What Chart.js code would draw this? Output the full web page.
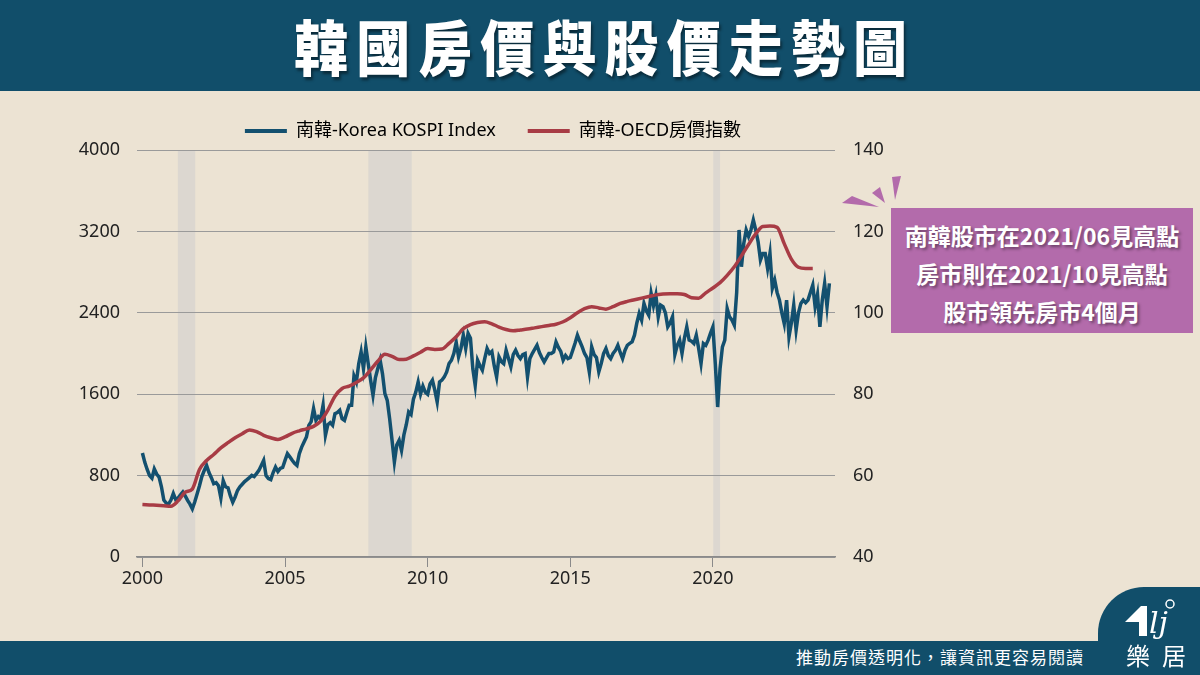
<!DOCTYPE html>
<html lang="zh-Hant">
<head>
<meta charset="utf-8">
<title>韓國房價與股價走勢圖</title>
<script src="https://cdn.jsdelivr.net/npm/chart.js@4.4.1/dist/chart.umd.min.js"></script>
<style>
  html, body { margin: 0; padding: 0; }
  body {
    width: 1200px; height: 675px; position: relative; overflow: hidden;
    background: #ece3d3;
    font-family: "Noto Sans CJK TC", "Noto Sans", sans-serif;
  }
  .title-bar {
    position: absolute; left: 0; top: 0; width: 1200px; height: 91px;
    background: #114e6a; color: #fff; text-align: center;
  }
  .title-bar span {
    display: inline-block; transform: scaleX(0.9); transform-origin: center;
    font-size: 60px; font-weight: 900; letter-spacing: 9px; padding-left: 9px;
    line-height: 90px;
    text-shadow: 2px 3px 3px rgba(0, 0, 0, 0.45);
  }
  .chart-wrap { position: absolute; left: 40px; top: 90px; width: 906px; height: 512px; }
  .note {
    position: absolute; left: 891px; top: 208px; width: 302px; height: 125px;
    background: #b36bab; color: #fff; box-sizing: border-box; padding-top: 8px;
    font-size: 23px; font-weight: 700; line-height: 38px; text-align: center;
    text-shadow: 2px 2px 3px rgba(0, 0, 0, 0.4);
  }
  .burst { position: absolute; left: 0; top: 0; }
  .footer { position: absolute; left: 0; top: 641px; width: 1200px; height: 34px; background: #114e6a; }
  .logo-tab {
    position: absolute; left: 1098px; top: 587px; width: 102px; height: 88px;
    background: #114e6a; border-top-left-radius: 46px;
  }
  .slogan {
    position: absolute; right: 116px; top: 644px; color: #fff;
    font-size: 17px; letter-spacing: 1px; line-height: 26px;
  }
  .logo-name {
    position: absolute; left: 1126px; top: 639px; color: #fff;
    font-size: 24px; letter-spacing: 12px; line-height: 32px;
  }
</style>
</head>
<body>
<div class="title-bar"><span>韓國房價與股價走勢圖</span></div>

<div class="chart-wrap"><canvas id="trendChart" width="906" height="512"></canvas></div>

<svg class="burst" width="1200" height="675">
  <polygon points="842,203 879,207 852,196" fill="#b36bab"/>
  <polygon points="872,193 885,203 880,187" fill="#b36bab"/>
  <polygon points="892,177 895,200 901,176" fill="#b36bab"/>
</svg>

<div class="note">南韓股市在2021/06見高點<br>房市則在2021/10見高點<br>股市領先房市4個月</div>

<div class="logo-tab"></div>
<div class="footer"></div>
<div class="slogan">推動房價透明化，讓資訊更容易閱讀</div>
<svg class="burst" width="1200" height="675">
  <polygon points="1125,622 1141,606 1147,606 1147,636 1139,636 1139,622" fill="#fff"/>
  <text x="1149" y="633" fill="#fff" font-family="DejaVu Serif" font-style="italic" font-size="30">lj</text>
  <circle cx="1170" cy="604" r="4" fill="none" stroke="#fff" stroke-width="1.5"/>
</svg>
<div class="logo-name">樂居</div>

<script>
// ---- data ----
// KOSPI index, monthly points starting Jan 2000
const kospiStartYear = 2000;
const kospiMonthly = [
    1022, 930, 860, 800, 775, 865, 815, 785, 690, 560, 530, 520,          // 2000
    560, 625, 565, 580, 610, 638, 600, 556, 520, 474, 540, 620,           // 2001
    700, 790, 850, 900, 830, 780, 720, 730, 700, 580, 750, 690,           // 2002
    680, 600, 539, 590, 654, 690, 715, 741, 760, 780, 802, 790,           // 2003
    820, 851, 900, 950, 800, 770, 760, 830, 884, 840, 870, 880,           // 2004
    950, 1016, 985, 950, 920, 900, 1016, 1080, 1130, 1179, 1294, 1330,    // 2005
    1459, 1343, 1380, 1360, 1491, 1196, 1300, 1320, 1294, 1409, 1420, 1442, // 2006
    1360, 1343, 1420, 1491, 1491, 1780, 1720, 1900, 2016, 1850, 2065, 1900, // 2007
    1737, 1590, 1760, 1850, 1934, 1800, 1606, 1540, 1360, 1150, 933, 1100,  // 2008
    1147, 1048, 1200, 1300, 1425, 1400, 1550, 1620, 1720, 1600, 1680, 1620, // 2009
    1600, 1700, 1737, 1640, 1524, 1720, 1740, 1770, 1819, 1901, 1934, 2000, // 2010
    2110, 1967, 2050, 2180, 2049, 2197, 2150, 1850, 1688, 1934, 1880, 1836, // 2011
    1950, 2049, 2000, 2020, 1880, 1770, 1967, 1920, 1900, 2032, 1950, 1868, // 2012
    1990, 2032, 1980, 1950, 1990, 2000, 1770, 1950, 2000, 2040, 2081, 2010, // 2013
    1960, 1917, 1960, 2000, 2000, 2016, 2114, 2060, 2020, 1934, 1980, 1950, // 2014
    1960, 2030, 2100, 2180, 2120, 2065, 2000, 1960, 1819, 2065, 1990, 1960, // 2015
    1819, 1900, 2000, 2049, 1980, 1950, 2000, 2030, 2081, 2010, 1950, 2030, // 2016
    2081, 2100, 2114, 2180, 2300, 2394, 2328, 2492, 2420, 2377, 2590, 2470, // 2017
    2574, 2360, 2476, 2460, 2400, 2262, 2300, 2360, 1990, 2080, 2131, 2000, // 2018
    2150, 2262, 2131, 2120, 2098, 2180, 2050, 1902, 2098, 2080, 2131, 2200, // 2019
    2262, 1900, 1474, 1850, 2065, 2131, 2443, 2360, 2330, 2279, 2600, 3214, // 2020
    2853, 3083, 3214, 3150, 3214, 3312, 3214, 3100, 2918, 2984, 2984, 2837, // 2021
    2984, 2642, 2721, 2600, 2525, 2400, 2295, 2525, 2164, 2300, 2476, 2230, // 2022
    2400, 2492, 2525, 2500, 2525, 2600, 2672, 2459, 2580, 2262, 2525, 2689, // 2023
    2459, 2689                                                              // 2024
];

// OECD house price index, quarterly points starting 2000 Q1
const houseStartYear = 2000;
const houseQuarterly = [
    52.9, 52.8, 52.7, 52.6,  52.5, 53.8, 55.9, 56.7,  61.5, 63.7, 65.2, 66.8,
    68.1, 69.3, 70.3, 71.2,  70.8, 69.9, 69.3, 68.9,  69.5, 70.4, 71.0, 71.5,
    72.1, 73.4, 76.1, 79.5,  81.4, 82.0, 82.9, 84.0,  86.0, 88.1, 89.8, 89.3,
    88.5, 88.6, 89.4, 90.3,  91.2, 91.0, 91.1, 92.5,  94.1, 96.1, 97.1, 97.6,
    97.8, 97.3, 96.5, 95.9,  95.6, 95.8, 96.0, 96.3,  96.6, 96.9, 97.2, 97.8,
    98.8, 100.0, 101.0, 101.5,  101.2, 100.9, 101.5, 102.3,  102.8, 103.2, 103.6, 104.0,
    104.4, 104.6, 104.7, 104.7,  104.5, 103.7, 103.6, 104.9,  106.1, 107.4, 109.2, 111.3,
    114.0, 116.8, 119.4, 121.2,  121.3, 121.0, 117.0, 113.2,  111.2, 110.9, 110.9
];

// shaded recession periods (decimal years)
const bandStarts = [2001.24, 2007.92, 2020.01];
const bandEnds = [2001.85, 2009.44, 2020.25];

const xTicks = [2000, 2005, 2010, 2015, 2020];
const leftTicks = [0, 800, 1600, 2400, 3200, 4000];
const rightTicks = [40, 60, 80, 100, 120, 140];

const seriesLabels = ['南韓-Korea KOSPI Index', '南韓-OECD房價指數'];

// Grey bands behind everything
const recessionBands = {
    id: 'recessionBands',
    beforeDraw(chart) {
        const { ctx, chartArea, scales: { x } } = chart;
        ctx.save();
        ctx.fillStyle = '#dcd7d0';
        bandStarts.forEach((start, i) => {
            const x0 = x.getPixelForValue(start);
            const x1 = x.getPixelForValue(bandEnds[i]);
            ctx.fillRect(x0, chartArea.top, x1 - x0, chartArea.bottom - chartArea.top);
        });
        ctx.restore();
    }
};

Chart.defaults.font.family = '"Noto Sans", "Noto Sans CJK TC", sans-serif';
Chart.defaults.color = '#222';

const kospiPoints = kospiMonthly.map((v, i) => ({ x: kospiStartYear + i / 12, y: v }));
const housePoints = houseQuarterly.map((v, i) => ({ x: houseStartYear + i / 4, y: v }));

const ctx = document.getElementById('trendChart').getContext('2d');

new Chart(ctx, {
    type: 'line',
    data: {
        datasets: [{
            label: seriesLabels[0],
            data: kospiPoints,
            borderColor: '#13506f',
            borderWidth: 3.5,
            pointRadius: 0,
            tension: 0,
            order: 1,
            yAxisID: 'y'
        }, {
            label: seriesLabels[1],
            data: housePoints,
            borderColor: '#a83c45',
            borderWidth: 3.5,
            pointRadius: 0,
            cubicInterpolationMode: 'monotone',
            order: 0,
            yAxisID: 'y1'
        }]
    },
    options: {
        responsive: false,
        animation: false,
        layout: { padding: 0 },
        plugins: {
            tooltip: { enabled: false },
            legend: {
                display: true,
                position: 'top',
                labels: {
                    boxWidth: 42,
                    boxHeight: 4,
                    padding: 32,
                    font: { size: 18 },
                    color: '#222',
                    generateLabels: chart => chart.data.datasets.map((ds, i) => ({
                        text: ds.label,
                        fillStyle: ds.borderColor,
                        strokeStyle: ds.borderColor,
                        lineWidth: 0,
                        hidden: false,
                        datasetIndex: i
                    }))
                }
            }
        },
        scales: {
            x: {
                type: 'linear',
                min: 1999.81,
                max: 2024.28,
                afterBuildTicks: s => { s.ticks = xTicks.map(v => ({ value: v })); },
                afterFit: s => { s.height = 45; },
                ticks: { callback: v => String(v), font: { size: 18 }, padding: 1, maxRotation: 0 },
                grid: { drawOnChartArea: false, drawTicks: true, tickLength: 10, color: '#8a8a8a', lineWidth: 1 },
                border: { display: true, color: '#8a8a8a', width: 1.5 }
            },
            y: {
                position: 'left',
                min: 0,
                max: 4000,
                afterBuildTicks: s => { s.ticks = leftTicks.map(v => ({ value: v })); },
                afterFit: s => { s.width = 97; },
                ticks: { callback: v => String(v), font: { size: 18 }, padding: 17 },
                grid: { color: '#9a9a9a', lineWidth: 1, drawTicks: false },
                border: { display: false }
            },
            y1: {
                position: 'right',
                min: 40,
                max: 140,
                afterBuildTicks: s => { s.ticks = rightTicks.map(v => ({ value: v })); },
                afterFit: s => { s.width = 111; },
                ticks: { callback: v => String(v), font: { size: 18 }, padding: 18 },
                grid: { drawOnChartArea: false, drawTicks: false },
                border: { display: false }
            }
        }
    },
    plugins: [recessionBands]
});
</script>
</body>
</html>
